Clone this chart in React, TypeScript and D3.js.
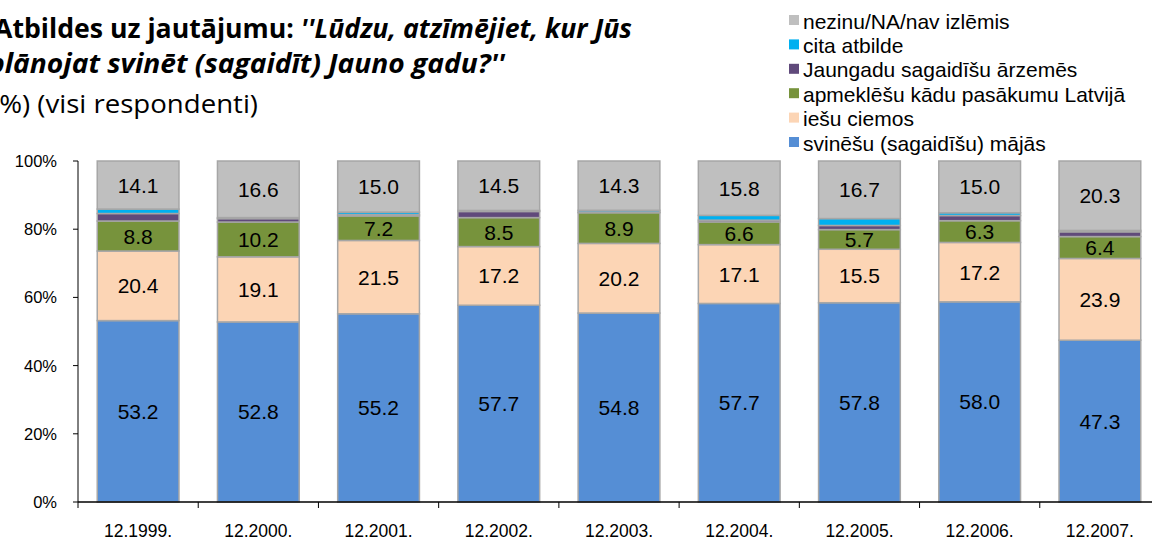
import * as d3 from "d3";

const categories = ["12.1999.", "12.2000.", "12.2001.", "12.2002.", "12.2003.", "12.2004.", "12.2005.", "12.2006.", "12.2007."];

const seriesNames = [
	"svinēšu (sagaidīšu) mājās",
	"iešu ciemos",
	"apmeklēšu kādu pasākumu Latvijā",
	"Jaungadu sagaidīšu ārzemēs",
	"cita atbilde",
	"nezinu/NA/nav izlēmis",
];

const atHome = [53.2, 52.8, 55.2, 57.7, 54.8, 57.7, 57.8, 58.0, 47.3];
const visiting = [20.4, 19.1, 21.5, 17.2, 20.2, 17.1, 15.5, 17.2, 23.9];
const eventLatvia = [8.8, 10.2, 7.2, 8.5, 8.9, 6.6, 5.7, 6.3, 6.4];
const abroad = [2.2, 1.0, 0.4, 1.8, 0.2, 0.5, 1.2, 1.5, 1.4];
const other = [1.3, 0.3, 0.7, 0.3, 0.5, 1.4, 2.0, 0.8, 0.4];
const dontKnow = [14.1, 16.6, 15.0, 14.5, 14.3, 15.8, 16.7, 15.0, 20.3];

const yTicks = [0, 20, 40, 60, 80, 100];

const colors = ["#558ed5", "#fcd5b5", "#77933c", "#604a7b", "#00b0f0", "#bfbfbf"];
const labelled = [true, true, true, false, false, true];

const W = 1152;
const H = 542;
const LEFT = 78;
const RIGHT = 1160;
const TOP = 161;
const BOTTOM = 502;

export default function App() {
	const series = [atHome, visiting, eventLatvia, abroad, other, dontKnow];
	// 100% stacked: each column normalised to its total
	const rows = categories.map((c, i) => {
		const row: Record<string, number | string> = { cat: c };
		const total = d3.sum(series, (s) => s[i]);
		series.forEach((s, k) => (row["s" + k] = (s[i] / total) * 100));
		return row;
	});
	const keys = series.map((_, k) => "s" + k);
	const stacked = d3.stack<any>().keys(keys)(rows);

	const x = d3.scaleBand().domain(categories).range([LEFT, RIGHT]).paddingInner(0.32).paddingOuter(0.16);
	const y = d3.scaleLinear().domain([0, 100]).range([BOTTOM, TOP]);
	const step = x.step();

	const legendOrder = [5, 4, 3, 2, 1, 0];

	return (
		<svg width={W} height={H} style={{ position: "absolute", left: 0, top: 0 }} fontFamily="'Liberation Sans', Arial, sans-serif">
			<rect width={W} height={H} fill="#fff" />
			{/* title, cut at the left edge like the source */}
			<g fontFamily="'Open Sans', 'Noto Sans', sans-serif" fontSize={26}>
				<text x={-6} y={38} textLength={638} lengthAdjust="spacingAndGlyphs" fontWeight="bold">
					Atbildes uz jautājumu:{" "}
					<tspan fontStyle="italic">''Lūdzu, atzīmējiet, kur Jūs</tspan>
				</text>
				<text x={-12} y={73} textLength={517} lengthAdjust="spacingAndGlyphs" fontWeight="bold" fontStyle="italic">
					plānojat svinēt (sagaidīt) Jauno gadu?''
				</text>
				<text x={-9} y={113} textLength={267} lengthAdjust="spacingAndGlyphs">
					(%) (visi respondenti)
				</text>
			</g>
			{/* legend */}
			<g fontSize={21}>
				{legendOrder.map((k, i) => (
					<g key={k} transform={`translate(789, ${20 + i * 24.4})`}>
						<rect x={0} y={-5} width={10} height={10} fill={colors[k]} />
						<text x={14} y={1} dominantBaseline="central" fill="#000">
							{seriesNames[k]}
						</text>
					</g>
				))}
			</g>
			{/* y axis */}
			<line x1={LEFT} x2={LEFT} y1={TOP} y2={BOTTOM} stroke="#000" />
			{yTicks.map((t) => (
				<g key={t}>
					<line x1={LEFT - 5} x2={LEFT} y1={y(t)} y2={y(t)} stroke="#000" />
					<text x={LEFT - 21} y={y(t)} textAnchor="end" dominantBaseline="central" fontSize={16.5}>
						{t}%
					</text>
				</g>
			))}
			{/* bars */}
			{stacked.map((layer, k) => (
				<g key={k}>
					{layer.map((d, i) => {
						const x0 = x(categories[i])!;
						const y0 = y(d[1]);
						const h = y(d[0]) - y(d[1]);
						return (
							<g key={i}>
								<rect x={x0} y={y0} width={x.bandwidth()} height={h} fill={colors[k]} stroke="#a6a6a6" strokeWidth={1.5} />
								{labelled[k] && (
									<text x={x0 + x.bandwidth() / 2} y={y0 + h / 2} textAnchor="middle" dominantBaseline="central" fontSize={21}>
										{series[k][i].toFixed(1)}
									</text>
								)}
							</g>
						);
					})}
				</g>
			))}
			{/* x axis */}
			<line x1={LEFT} x2={RIGHT} y1={BOTTOM} y2={BOTTOM} stroke="#000" strokeWidth={1.5} />
			{categories.map((c, i) => (
				<g key={c}>
					<line x1={LEFT + i * step} x2={LEFT + i * step} y1={BOTTOM} y2={BOTTOM + 6} stroke="#000" />
					<text x={x(c)! + x.bandwidth() / 2} y={531} textAnchor="middle" dominantBaseline="central" fontSize={17.5}>
						{c}
					</text>
				</g>
			))}
		</svg>
	);
}
